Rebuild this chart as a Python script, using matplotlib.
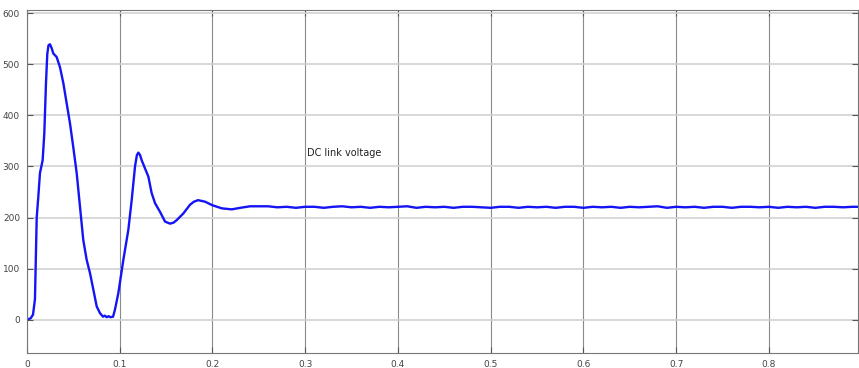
import matplotlib.pyplot as plt

# transient part of the DC link voltage
t_tr = [0.0, 0.0040, 0.0065, 0.0086, 0.0105, 0.0122, 0.0140, 0.0169, 0.0187, 0.0205,
        0.0219, 0.0232, 0.0248, 0.0265, 0.0284, 0.0320, 0.0356, 0.0392, 0.0428, 0.0464, 0.0499,
        0.0536, 0.0572, 0.0607, 0.0644, 0.0680, 0.0715, 0.0752, 0.0787, 0.0820,
        0.0840, 0.0860, 0.0880, 0.0900, 0.0928, 0.0949, 0.0985, 0.1039, 0.1093,
        0.1129, 0.1165, 0.1185, 0.1201, 0.1220, 0.1237, 0.1273, 0.1309, 0.1344, 0.1381, 0.1435,
        0.1489, 0.1543, 0.1580, 0.1615, 0.1686, 0.1758, 0.1800, 0.1845, 0.1920, 0.2000, 0.2100,
        0.2208, 0.2300, 0.2406]
v_tr = [0, 3, 10, 40, 200, 240, 287, 312, 365, 463,
        520, 537, 539, 532, 521, 514, 494, 463, 423, 384, 338,
        287, 221, 156, 117, 91, 59, 26, 13, 6,
        8, 5, 7, 5, 6, 20, 52, 117, 176,
        234, 300, 322, 327, 322, 312, 296, 280, 248, 228, 211,
        192, 188, 190, 195, 208, 225, 231, 234, 231, 224, 218,
        216, 219, 222]

# steady state part with small ripple
t_ss = [0.25, 0.26, 0.27, 0.28, 0.29, 0.30, 0.31, 0.32, 0.33, 0.34, 0.35, 0.36,
        0.37, 0.38, 0.39, 0.40, 0.41, 0.42, 0.43, 0.44, 0.45, 0.46, 0.47, 0.48,
        0.49, 0.50, 0.51, 0.52, 0.53, 0.54, 0.55, 0.56, 0.57, 0.58, 0.59, 0.60,
        0.61, 0.62, 0.63, 0.64, 0.65, 0.66, 0.67, 0.68, 0.69, 0.70, 0.71, 0.72,
        0.73, 0.74, 0.75, 0.76, 0.77, 0.78, 0.79, 0.80, 0.81, 0.82, 0.83, 0.84,
        0.85, 0.86, 0.87, 0.88, 0.89, 0.896]
v_ss = [222, 222, 220, 221, 219, 221, 221, 219, 221, 222, 220, 221,
        219, 221, 220, 221, 222, 219, 221, 220, 221, 219, 221, 221,
        220, 219, 221, 221, 219, 221, 220, 221, 219, 221, 221, 219,
        221, 220, 221, 219, 221, 220, 221, 222, 219, 221, 220, 221,
        219, 221, 221, 219, 221, 221, 220, 221, 219, 221, 220, 221,
        219, 221, 221, 220, 221, 221]

t = t_tr + t_ss
v = v_tr + v_ss

fig = plt.figure(figsize=(8.59, 3.68), dpi=100)
ax = fig.add_axes([0.0314, 0.0408, 0.9674, 0.932])

ax.plot(t, v, color="#1414f5", lw=1.7, solid_joinstyle="round")

ax.set_xlim(0, 0.896)
ax.set_ylim(-65, 606)
ax.set_xticks([0, 0.1, 0.2, 0.3, 0.4, 0.5, 0.6, 0.7, 0.8])
ax.set_xticklabels(["0", "0.1", "0.2", "0.3", "0.4", "0.5", "0.6", "0.7", "0.8"])
ax.set_yticks([0, 100, 200, 300, 400, 500, 600])

ax.xaxis.grid(True, color="#8a8a8a", lw=0.8)
ax.yaxis.grid(True, color="#d2d2d2", lw=1.2)
ax.set_axisbelow(True)
ax.tick_params(direction="in", length=4, labelsize=6.5, labelcolor="#444444",
               color="#555555", top=True, right=True, pad=5)
for s in ax.spines.values():
    s.set_color("#777777")

ax.text(0.302, 326, "DC link voltage", fontsize=7, va="center", color="#222222")

fig.savefig("out.png", dpi=100)
